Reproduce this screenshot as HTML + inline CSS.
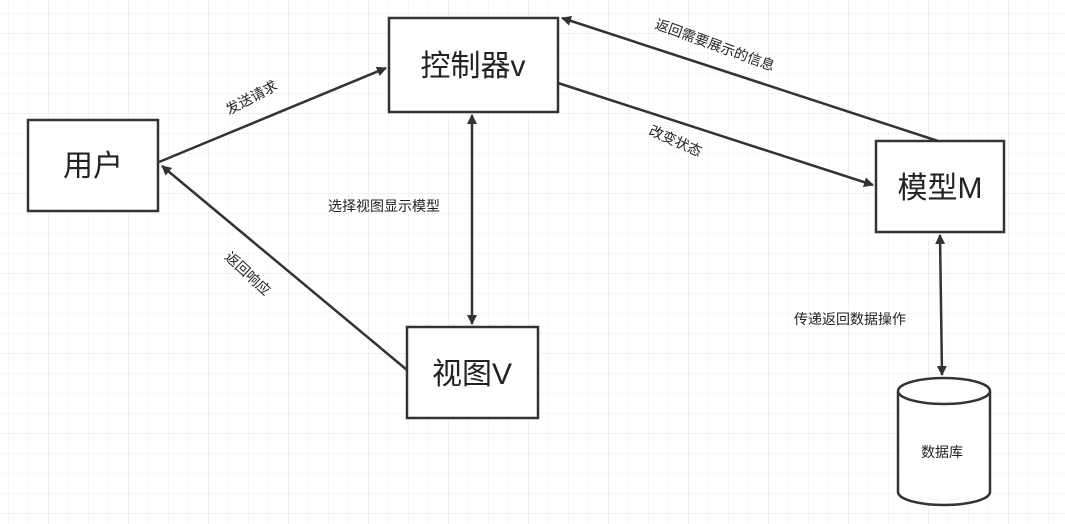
<!DOCTYPE html>
<html><head><meta charset="utf-8"><style>
html,body{margin:0;padding:0;background:#fff}
svg{display:block}
text{font-family:"Liberation Sans","Noto Sans CJK SC",sans-serif;fill:#222}
</style></head><body>
<svg width="1065" height="524" viewBox="0 0 1065 524" xmlns="http://www.w3.org/2000/svg">
<defs>
<pattern id="g" x="8" y="13" width="20" height="20" patternUnits="userSpaceOnUse">
<path d="M20 0H0V20" fill="none" stroke="#ececec" stroke-width="1"/></pattern>
<pattern id="G" x="48" y="33" width="80" height="80" patternUnits="userSpaceOnUse">
<path d="M80 0H0V80" fill="none" stroke="#e0e0e0" stroke-width="1"/></pattern>
<marker id="a" markerWidth="10" markerHeight="10" refX="9" refY="5" orient="auto-start-reverse" markerUnits="userSpaceOnUse" viewBox="0 0 10 10">
<path d="M0 0L10 5L0 10z" fill="#333"/></marker>
</defs>
<rect width="1065" height="524" fill="url(#g)"/>
<rect width="1065" height="524" fill="url(#G)"/>
<g stroke="#333" stroke-width="2.5" fill="#fff">
<rect x="28" y="120" width="130" height="91"/>
<rect x="389" y="18" width="169" height="94"/>
<rect x="407" y="327" width="131" height="91"/>
<rect x="876" y="141" width="128" height="91"/>
<path d="M898 391V492A46 13 0 0 0 990 492V391A46 13 0 0 0 898 391A46 13 0 0 0 990 391"/>
</g>
<g stroke="#333" stroke-width="2.5" fill="none">
<line x1="159" y1="162" x2="386" y2="68" marker-end="url(#a)"/>
<line x1="407" y1="370" x2="162" y2="166" marker-end="url(#a)"/>
<line x1="472" y1="115" x2="472" y2="324" marker-start="url(#a)" marker-end="url(#a)"/>
<line x1="558" y1="83" x2="873" y2="185" marker-end="url(#a)"/>
<line x1="938" y1="141" x2="562" y2="18" marker-end="url(#a)"/>
<line x1="940" y1="235" x2="942" y2="375" marker-start="url(#a)" marker-end="url(#a)"/>
</g>
<g font-size="30" text-anchor="middle">
<text x="93" y="176">用户</text>
<text x="473" y="76">控制器v</text>
<text x="472" y="384">视图V</text>
<text x="940" y="198">模型M</text>
</g>
<g font-size="14">
<text transform="translate(229,115) rotate(-28)">发送请求</text>
<text transform="translate(224,258) rotate(43)">返回响应</text>
<text x="328" y="211">选择视图显示模型</text>
<text transform="translate(648,134) rotate(24)">改变状态</text>
<text transform="translate(654,28) rotate(20)">返回需要展示的信息</text>
<text x="794" y="324">传递返回数据操作</text>
<text x="921" y="457">数据库</text>
</g>
</svg>
</body></html>
